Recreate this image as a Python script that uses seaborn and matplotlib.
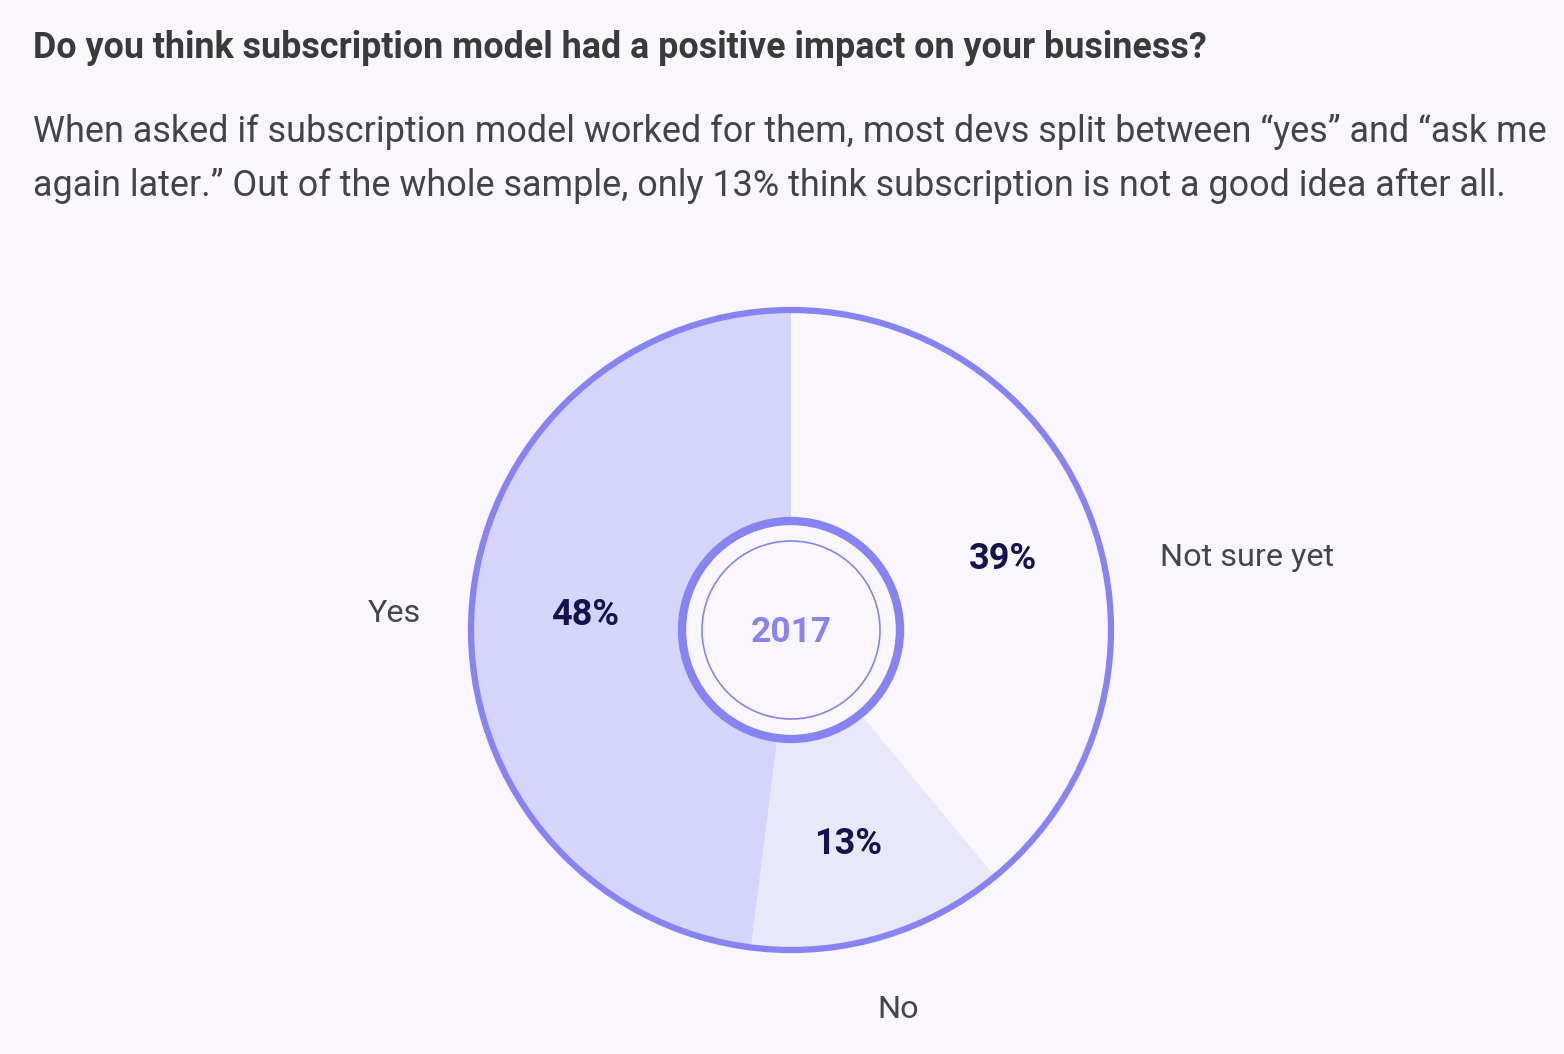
import matplotlib
matplotlib.use("Agg")
import matplotlib.pyplot as plt
import seaborn as sns
from matplotlib.patches import Circle

# --- data ---
categories = ["Not sure yet", "No", "Yes"]
shares = [39, 13, 48]
year_label = "2017"
title = "Do you think subscription model had a positive impact on your business?"
subtitle = ("When asked if subscription model worked for them, most devs split between \u201cyes\u201d and \u201cask me\n"
            "again later.\u201d Out of the whole sample, only 13% think subscription is not a good idea after all.")

# --- style ---
bg = "#f9f7fd"
ring = "#8883f4"
slice_colors = ["#f9f7fd", "#e9e8fb", "#d5d4fa"]
sns.set_theme(style="white", rc={"figure.facecolor": bg, "axes.facecolor": bg})
plt.rcParams["font.family"] = ["Roboto", "DejaVu Sans"]

W, H = 1564, 1054
fig = plt.figure(figsize=(W / 100, H / 100), dpi=100)
ax = fig.add_axes([0, 0, 1, 1])

cx, cy, r = 791, H - 630, 320

# pie wedges, clockwise from 12 o'clock
ax.pie(shares, colors=slice_colors, startangle=90, counterclock=False,
       center=(cx, cy), radius=r, frame=True, wedgeprops=dict(linewidth=0))
ax.set_xlim(0, W)
ax.set_ylim(0, H)
ax.set_aspect("equal")
ax.axis("off")

# outer ring and inner circles
ax.add_patch(Circle((cx, cy), r, fill=False, edgecolor=ring, linewidth=4.5, zorder=3))
ax.add_patch(Circle((cx, cy), 109, facecolor=bg, edgecolor=ring, linewidth=6, zorder=4))
ax.add_patch(Circle((cx, cy), 89, fill=False, edgecolor=ring, linewidth=1.2, zorder=5))
ax.text(cx, cy - 2, year_label, ha="center", va="center", fontsize=25.5, fontweight="bold",
        color="#8a84f0", zorder=6)

# percentage labels and category labels
pct_pos = {"Not sure yet": (1003, 559), "No": (848, 844), "Yes": (585, 615)}
cat_pos = {"Not sure yet": (1247, 557), "No": (898, 1009), "Yes": (394, 613)}
for cat, val in zip(categories, shares):
    px, py = pct_pos[cat]
    ax.text(px, H - py, f"{val}%", ha="center", va="center", fontsize=26,
            fontweight="bold", color="#15124f", zorder=6)
    lx, ly = cat_pos[cat]
    ax.text(lx, H - ly, cat, ha="center", va="center", fontsize=23.3,
            color="#45454f", zorder=6)

# heading texts
fig.text(33 / W, 1 - 48 / H, title, ha="left", va="center", fontsize=25.8,
         fontweight="bold", color="#3a3a3a")
fig.text(33 / W, 1 - 159 / H, subtitle, ha="left", va="center", fontsize=25.9,
         color="#444448", linespacing=1.66)

fig.savefig("out.png", dpi=100, facecolor=bg)
